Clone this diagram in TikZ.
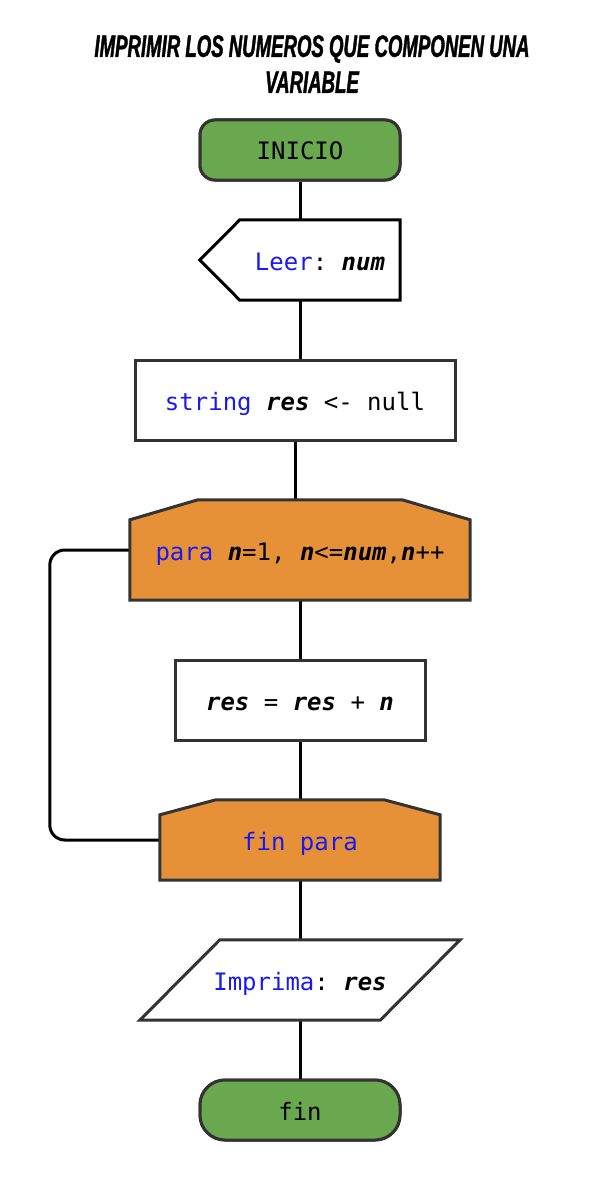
\documentclass[tikz,border=0pt]{standalone}
\usepackage{fontspec}
\setmonofont{DejaVu Sans Mono}
\newfontfamily\titlefont[FakeStretch=0.6, FakeBold=1.2]{Liberation Sans}
\usetikzlibrary{calc}
\definecolor{bord}{HTML}{333333}
\definecolor{termgreen}{HTML}{6AA84F}
\definecolor{looporange}{HTML}{E69138}
\definecolor{kw}{HTML}{1A1AF0}
\newcommand{\kw}[1]{\textcolor{kw}{#1}}
\newcommand{\vr}[1]{{\bfseries\itshape #1}}
\tikzset{
  code/.style={font=\ttfamily\fontsize{24}{28}\selectfont, inner sep=0pt, text height=22pt, text depth=2pt},
  term/.style={code, draw=bord, line width=3pt, fill=termgreen, minimum width=200pt, minimum height=60pt},
  procbox/.style={code, draw=bord, line width=3pt, fill=white, minimum height=80pt},
  ghost/.style={code, minimum height=80pt},
  outline/.style={draw=bord, line width=3pt, line join=miter},
  conn/.style={draw=black, line width=3pt},
}
\begin{document}
\begin{tikzpicture}[x=1pt,y=-1pt]
\useasboundingbox[fill=white] (0,0) rectangle (600,1180);
\node[align=center, font=\titlefont\bfseries\itshape\fontsize{31}{36}\selectfont] (title) at (312,64)
  {IMPRIMIR LOS NUMEROS QUE COMPONEN UNA\\VARIABLE};

% node placeholders (text)
\node[ghost, minimum width=160pt] (leer) at (320,260) {};
\node[ghost, minimum width=340pt, minimum height=100pt] (para) at (300,550) {};
\node[ghost, minimum width=280pt] (finpara) at (300,840) {};
\node[ghost, minimum width=320pt] (impr) at (300,980) {};

\node[term, rounded corners=15pt] (inicio) at (300,150) {INICIO};
\node[procbox, minimum width=320pt] (str) at (295,400) {};
\node[procbox, minimum width=250pt] (res) at (300,700) {};
\node[term, rounded corners=25pt] (fin) at (300,1110) {};

% connectors
\draw[conn] (inicio.south) -- (inicio.south |- leer.north);
\draw[conn] (inicio.south |- leer.south) -- (inicio.south |- str.north);
\draw[conn] (str.south) -- (str.south |- para.north);
\draw[conn] (para.south) -- (res.north);
\draw[conn] (res.south) -- (finpara.north);
\draw[conn] (finpara.south) -- (impr.north);
\draw[conn] (impr.south) -- (fin.north);
\draw[conn, rounded corners=15pt] (para.west) -- ++(-80,0) |- (finpara.west);

% shapes
\node[term, rounded corners=15pt] at (inicio) {INICIO};
\draw[draw=black, line width=3pt, fill=white] (leer.north east) -- (leer.south east) -- (leer.south west)
  -- ($(leer.west)+(-40,0)$) -- (leer.north west) -- cycle;
\node[code] at (leer) {\kw{Leer}: \vr{num}};
\node[procbox, minimum width=320pt] at (str) {\kw{string} \vr{res} <- null};
\draw[outline, fill=looporange] (para.south west) -- ($(para.north west)+(0,20)$) -- ($(para.north west)+(68,0)$)
  -- ($(para.north east)+(-68,0)$) -- ($(para.north east)+(0,20)$) -- (para.south east) -- cycle;
\node[code] at (para) {\kw{para} \vr{n}=1, \vr{n}<=\vr{num},\vr{n}++};
\node[procbox, minimum width=250pt] at (res) {\vr{res} = \vr{res} + \vr{n}};
\draw[outline, fill=looporange] (finpara.south west) -- ($(finpara.north west)+(0,15)$) -- ($(finpara.north west)+(56,0)$)
  -- ($(finpara.north east)+(-56,0)$) -- ($(finpara.north east)+(0,15)$) -- (finpara.south east) -- cycle;
\node[code] at (finpara) {\kw{fin para}};
\draw[outline, fill=white] (impr.south west) -- ($(impr.north west)+(80,0)$) -- (impr.north east)
  -- ($(impr.south east)+(-80,0)$) -- cycle;
\node[code] at (impr) {\kw{Imprima}: \vr{res}};
\node[term, rounded corners=25pt] at (fin) {fin};
\end{tikzpicture}
\end{document}
